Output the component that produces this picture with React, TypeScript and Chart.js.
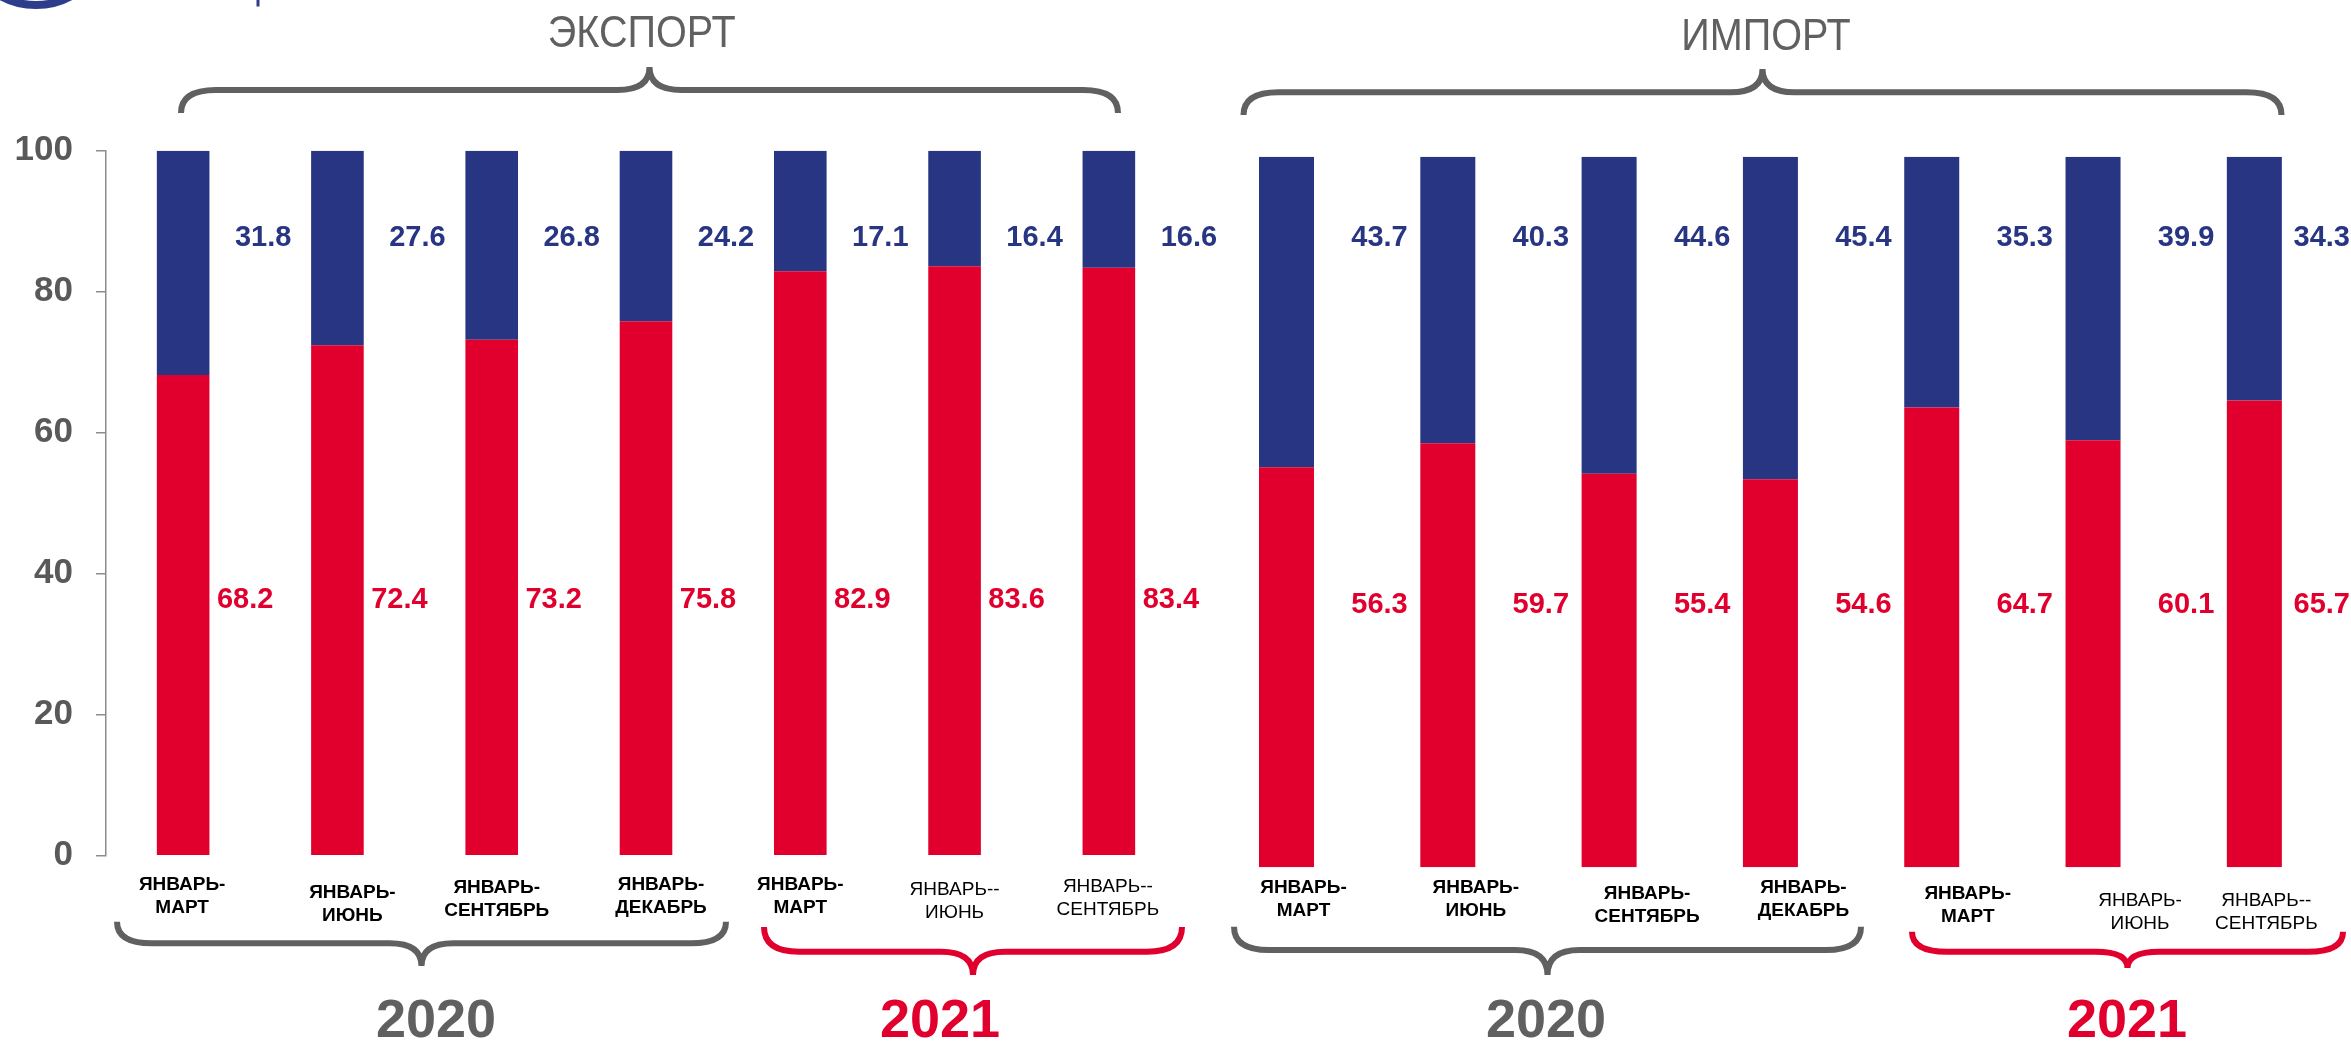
import React, { useEffect, useRef } from "react";
import { Chart, registerables } from "chart.js";

Chart.register(...registerables);

// ---------------- data ----------------
const sectionTitles = ["ЭКСПОРТ", "ИМПОРТ"];
const yearNames = ["2020", "2021"];
const yTickValues = [0, 20, 40, 60, 80, 100];

const exportPeriods = [
  "ЯНВАРЬ-\nМАРТ",
  "ЯНВАРЬ-\nИЮНЬ",
  "ЯНВАРЬ-\nСЕНТЯБРЬ",
  "ЯНВАРЬ-\nДЕКАБРЬ",
  "ЯНВАРЬ-\nМАРТ",
  "ЯНВАРЬ--\nИЮНЬ",
  "ЯНВАРЬ--\nСЕНТЯБРЬ",
];
const exportRed = [68.2, 72.4, 73.2, 75.8, 82.9, 83.6, 83.4];
const exportBlue = [31.8, 27.6, 26.8, 24.2, 17.1, 16.4, 16.6];

const importPeriods = [
  "ЯНВАРЬ-\nМАРТ",
  "ЯНВАРЬ-\nИЮНЬ",
  "ЯНВАРЬ-\nСЕНТЯБРЬ",
  "ЯНВАРЬ-\nДЕКАБРЬ",
  "ЯНВАРЬ-\nМАРТ",
  "ЯНВАРЬ-\nИЮНЬ",
  "ЯНВАРЬ--\nСЕНТЯБРЬ",
];
const importRed = [56.3, 59.7, 55.4, 54.6, 64.7, 60.1, 65.7];
const importBlue = [43.7, 40.3, 44.6, 45.4, 35.3, 39.9, 34.3];

// ---------------- style / layout ----------------
const W = 2351;
const H = 1041;
const RED = "#E1002D";
const BLUE = "#283583";
const GRAY = "#606060";
const AXIS = "#8C8C8C";
const FONT = "'Liberation Sans', Arial, Helvetica, sans-serif";
const BAR_PCT = 0.341;

const exportLayout = {
  area: { left: 106, right: 1186, top: 150.7, bottom: 855.7 },
  regular: [false, false, false, false, false, true, true],
  labelDx: [-1, 15, 5, 15, 0, 0, -1],
  labelY: [885, 892.5, 888, 885, 885, 890, 887],
  blueDx: 80,
  redDx: 62,
  blueAt: 87.6,
  redAt: 36.3,
  title: { x: 641.7, base: 46.7 },
  topBrace: { x0: 181, x1: 1118, yLine: 90, yEnd: 113, yTip: 67 },
  bottomBraces: [
    { x0: 117, x1: 726, yLine: 943.3, yEnd: 921.7, yTip: 966, color: GRAY, yearX: 436 },
    { x0: 764, x1: 1182, yLine: 951.7, yEnd: 927, yTip: 975, color: RED, yearX: 940 },
  ],
  logo: true,
};

const importLayout = {
  area: { left: 1205.85, right: 2335, top: 156.8, bottom: 867.3 },
  regular: [false, false, false, false, false, true, true],
  labelDx: [17, 28, 38, 33, 36, 47, 12],
  labelY: [887.5, 887.5, 894, 888, 894, 901, 901],
  blueDx: 93,
  redDx: 93,
  blueAt: 88.6,
  redAt: 36.9,
  title: { x: 1766, base: 50 },
  topBrace: { x0: 1243.5, x1: 2281.5, yLine: 92.3, yEnd: 115, yTip: 69 },
  bottomBraces: [
    { x0: 1234, x1: 1861, yLine: 950, yEnd: 926.7, yTip: 975, color: GRAY, yearX: 1546 },
    { x0: 1912, x1: 2343, yLine: 951.7, yEnd: 931.7, yTip: 968, color: RED, yearX: 2127 },
  ],
  logo: false,
};

function drawBrace(
  ctx: CanvasRenderingContext2D,
  b: { x0: number; x1: number; yLine: number; yEnd: number; yTip: number },
  color: string
) {
  const xc = (b.x0 + b.x1) / 2;
  const r = 35;
  const t = 32;
  ctx.save();
  ctx.strokeStyle = color;
  ctx.lineWidth = 6;
  ctx.lineCap = "butt";
  ctx.lineJoin = "bevel";
  ctx.beginPath();
  ctx.moveTo(b.x0, b.yEnd);
  ctx.quadraticCurveTo(b.x0, b.yLine, b.x0 + r, b.yLine);
  ctx.lineTo(xc - t, b.yLine);
  ctx.quadraticCurveTo(xc, b.yLine, xc, b.yTip);
  ctx.quadraticCurveTo(xc, b.yLine, xc + t, b.yLine);
  ctx.lineTo(b.x1 - r, b.yLine);
  ctx.quadraticCurveTo(b.x1, b.yLine, b.x1, b.yEnd);
  ctx.stroke();
  ctx.restore();
}

function decoPlugin(d: any) {
  return {
    id: "deco_" + d.title,
    afterDraw(chart: any) {
      const ctx: CanvasRenderingContext2D = chart.ctx;
      const xs = chart.scales.x;
      const ys = chart.scales.y;
      ctx.save();

      // value labels
      ctx.font = `bold 29px ${FONT}`;
      ctx.textAlign = "center";
      ctx.textBaseline = "middle";
      d.blue.forEach((v: number, i: number) => {
        const s = v.toFixed(1);
        const w = ctx.measureText(s).width;
        const cx = Math.min(xs.getPixelForValue(i) + d.L.blueDx, W - w / 2 - 1);
        ctx.fillStyle = BLUE;
        ctx.fillText(s, cx, ys.getPixelForValue(d.L.blueAt));
      });
      d.red.forEach((v: number, i: number) => {
        const s = v.toFixed(1);
        const w = ctx.measureText(s).width;
        const cx = Math.min(xs.getPixelForValue(i) + d.L.redDx, W - w / 2 - 1);
        ctx.fillStyle = RED;
        ctx.fillText(s, cx, ys.getPixelForValue(d.L.redAt));
      });

      // category labels
      ctx.fillStyle = "#000";
      d.periods.forEach((p: string, i: number) => {
        const lines = p.split("\n");
        ctx.font = `${d.L.regular[i] ? "" : "bold "}19px ${FONT}`;
        const cx = xs.getPixelForValue(i) + d.L.labelDx[i];
        lines.forEach((ln: string, k: number) => {
          ctx.fillText(ln, cx, d.L.labelY[i] + k * 23);
        });
      });

      // section title
      ctx.fillStyle = GRAY;
      ctx.font = `44px ${FONT}`;
      ctx.textBaseline = "alphabetic";
      ctx.save();
      ctx.translate(d.L.title.x, d.L.title.base);
      ctx.scale(0.9, 1);
      ctx.fillText(d.title, 0, 0);
      ctx.restore();

      // braces
      drawBrace(ctx, d.L.topBrace, GRAY);
      d.L.bottomBraces.forEach((b: any, k: number) => {
        drawBrace(ctx, b, b.color);
        ctx.fillStyle = b.color;
        ctx.font = `bold 54px ${FONT}`;
        ctx.textAlign = "center";
        ctx.textBaseline = "alphabetic";
        ctx.fillText(yearNames[k], b.yearX, 1037);
      });

      // logo fragment
      if (d.L.logo) {
        ctx.strokeStyle = "#2E3C8C";
        ctx.lineWidth = 8;
        ctx.beginPath();
        ctx.arc(36, -67, 72, 0, Math.PI);
        ctx.stroke();
        ctx.fillStyle = "#2E3C8C";
        ctx.fillRect(256.5, 0, 3, 6.5);
      }
      ctx.restore();
    },
  };
}

function makeChart(
  canvas: HTMLCanvasElement,
  periods: string[],
  red: number[],
  blue: number[],
  title: string,
  L: any,
  showAxis: boolean
) {
  const yScale: any = {
    stacked: true,
    display: showAxis,
    min: 0,
    max: 100,
    afterBuildTicks: (s: any) => {
      s.ticks = yTickValues.map((v) => ({ value: v }));
    },
    ticks: {
      padding: 23,
      color: "#595959",
      font: { family: FONT, size: 35, weight: "bold" },
    },
    grid: { drawOnChartArea: false, drawTicks: true, tickLength: 10, color: AXIS, lineWidth: 1.5 },
    border: { display: true, color: AXIS, width: 1.5 },
  };
  if (showAxis) {
    yScale.afterFit = (s: any) => {
      s.width = L.area.left;
    };
  }
  return new Chart(canvas, {
    type: "bar",
    data: {
      labels: periods,
      datasets: [
        { label: "red", data: red, backgroundColor: RED, borderWidth: 0, barPercentage: BAR_PCT, categoryPercentage: 1 },
        { label: "blue", data: blue, backgroundColor: BLUE, borderWidth: 0, barPercentage: BAR_PCT, categoryPercentage: 1 },
      ],
    },
    options: {
      animation: false,
      responsive: false,
      events: [],
      layout: {
        padding: {
          left: showAxis ? 0 : L.area.left,
          right: W - L.area.right,
          top: L.area.top,
          bottom: H - L.area.bottom,
        },
      },
      plugins: { legend: { display: false }, tooltip: { enabled: false } },
      scales: {
        x: { stacked: true, display: false },
        y: yScale,
      },
    } as any,
    plugins: [decoPlugin({ periods, red, blue, title, L })],
  } as any);
}

export default function App() {
  const expRef = useRef<HTMLCanvasElement>(null);
  const impRef = useRef<HTMLCanvasElement>(null);

  useEffect(() => {
    document.body.style.margin = "0";
    document.body.style.overflow = "hidden";
    const c1 = makeChart(expRef.current!, exportPeriods, exportRed, exportBlue, sectionTitles[0], exportLayout, true);
    const c2 = makeChart(impRef.current!, importPeriods, importRed, importBlue, sectionTitles[1], importLayout, false);
    return () => {
      c1.destroy();
      c2.destroy();
    };
  }, []);

  return (
    <div style={{ position: "relative", width: W, height: H, background: "#fff", overflow: "hidden" }}>
      <canvas ref={expRef} width={W} height={H} style={{ position: "absolute", left: 0, top: 0 }} />
      <canvas ref={impRef} width={W} height={H} style={{ position: "absolute", left: 0, top: 0 }} />
    </div>
  );
}
